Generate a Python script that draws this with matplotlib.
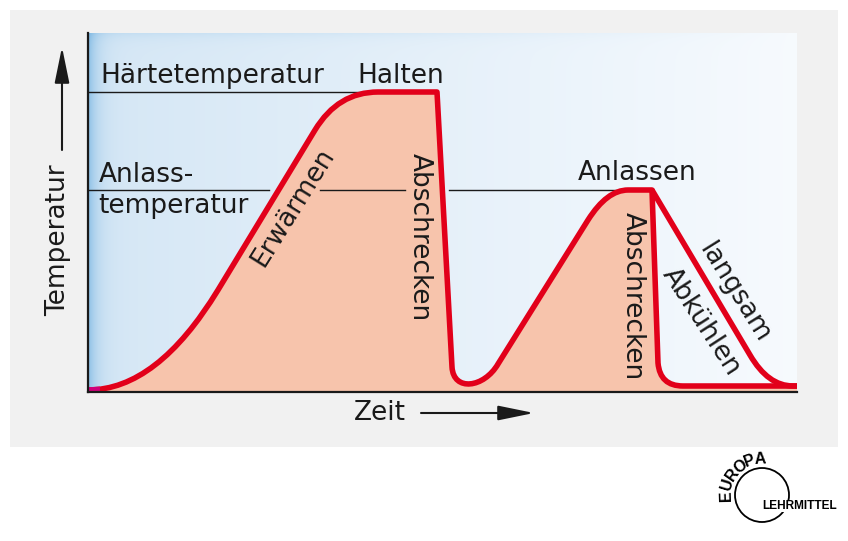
import numpy as np
import matplotlib
matplotlib.use('Agg')
import matplotlib.pyplot as plt
from matplotlib.path import Path
from matplotlib.patches import PathPatch, Rectangle, Circle, FancyArrowPatch

plt.rcParams['font.family'] = ['DejaVu Sans']

# ---------------- data (time, temperature in arbitrary units) ----------------
hardening_temp = 300
tempering_temp = 202
# main heat-treatment curve: path vertices and path codes
main_t = [0, 69, 130, 227, 250, 290, 349, 364, 365.5, 396, 410, 500, 519, 540, 564, 570, 572, 595, 709]
main_T = [2, 2, 102, 262, 300, 300, 300, 25, 0, 4, 28, 172, 202, 202, 202, 29, 6, 6, 6]
main_codes = ['M', 'C3', 'C3', 'L', 'C3', 'C3', 'L', 'L', 'C4', 'C4', 'C4', 'L', 'C3', 'C3', 'L', 'L', 'C3', 'C3', 'L']
# slow cooling branch after tempering
slow_t = [564, 662, 680, 705, 709]
slow_T = [202, 37, 6, 6, 6]
slow_codes = ['M', 'L', 'C3', 'C3', 'L']
# reference lines (start, end)
hard_line = [(0, 349)]
temper_line = [(0, 181), (232, 317), (361, 564)]

labels = {
    'hard': 'Härtetemperatur', 'hold': 'Halten', 'temper1': 'Anlass-', 'temper2': 'temperatur',
    'heat': 'Erwärmen', 'quench': 'Abschrecken', 'tempering': 'Anlassen',
    'slow1': 'langsam', 'slow2': 'Abkühlen', 'ylabel': 'Temperatur', 'xlabel': 'Zeit',
}

W, H = 848, 541
fig = plt.figure(figsize=(W / 100, H / 100), dpi=100)

def fx(px):
    return px / W

def fy(py):
    return 1 - py / H

# gray panel
fig.add_artist(Rectangle((fx(10), fy(447)), fx(838) - fx(10), fy(10) - fy(447),
                         transform=fig.transFigure, facecolor='#f1f1f1', edgecolor='none', zorder=0))

ax = fig.add_axes([fx(88), fy(392), fx(797) - fx(88), fy(33) - fy(392)])
ax.set_xlim(0, 709)
ax.set_ylim(0, 359)
ax.patch.set_alpha(0)
ax.set_xticks([])
ax.set_yticks([])
for s in ['top', 'right']:
    ax.spines[s].set_visible(False)
for s in ['left', 'bottom']:
    ax.spines[s].set_color('#1a1a1a')
    ax.spines[s].set_linewidth(1.6)
    ax.spines[s].set_zorder(6)

# background gradient
gw, gh = 709, 359
xx = np.arange(gw)[None, :] * np.ones((gh, 1))
yy = np.arange(gh)[:, None] * np.ones((1, gw))
u = xx / gw
c0 = np.array([0.835, 0.905, 0.962])
c1 = np.array([0.968, 0.982, 0.996])
img = c0[None, None, :] * (1 - u[..., None]) + c1[None, None, :] * u[..., None]
edge = np.array([0.45, 0.70, 0.88])
a = 0.75 * np.exp(-xx / 9.0) + 0.18 * np.exp(-yy / 6.0) * (1 - u)
a = np.clip(a, 0, 0.85)[..., None]
img = img * (1 - a) + edge[None, None, :] * a
ax.imshow(img, extent=(0, 709, 0, 359), origin='upper', aspect='auto', zorder=0, interpolation='bilinear')

code_map = {'M': Path.MOVETO, 'L': Path.LINETO, 'C3': Path.CURVE3, 'C4': Path.CURVE4}
main_verts = list(zip(main_t, main_T))
main_c = [code_map[c] for c in main_codes]
fill_path = Path(main_verts + [(709, 0), (0, 0), (0, 0)],
                 main_c + [Path.LINETO, Path.LINETO, Path.CLOSEPOLY])
ax.add_patch(PathPatch(fill_path, facecolor='#f7c4ac', edgecolor='none', zorder=1))

# reference lines
for a0, a1 in hard_line:
    ax.plot([a0, a1], [hardening_temp, hardening_temp], color='#1a1a1a', lw=1.0, zorder=2)
for a0, a1 in temper_line:
    ax.plot([a0, a1], [tempering_temp, tempering_temp], color='#1a1a1a', lw=1.0, zorder=2)

red = '#e2001a'
ax.add_patch(PathPatch(Path(main_verts, main_c), fill=False, edgecolor=red, lw=4.0,
                       joinstyle='round', capstyle='butt', zorder=4))
ax.add_patch(PathPatch(Path(list(zip(slow_t, slow_T)), [code_map[c] for c in slow_codes]),
                       fill=False, edgecolor=red, lw=4.0, joinstyle='round', capstyle='butt', zorder=4))
ax.plot([0, 12], [2, 2.6], color='#d0007a', lw=4.0, solid_capstyle='butt', zorder=5)

fs = 19
tc = '#1a1a1a'
ax.text(12, 309, labels['hard'], fontsize=fs, color=tc, va='baseline', ha='left', zorder=7)
ax.text(269, 309, labels['hold'], fontsize=fs, color=tc, va='baseline', ha='left', zorder=7)
ax.text(11, 210, labels['temper1'], fontsize=fs, color=tc, va='baseline', ha='left', zorder=7)
ax.text(10, 179, labels['temper2'], fontsize=fs, color=tc, va='baseline', ha='left', zorder=7)
ax.text(549, 212, labels['tempering'], fontsize=fs, color=tc, va='baseline', ha='center', zorder=7)
ax.text(205, 185, labels['heat'], fontsize=fs, color=tc, va='center', ha='center', rotation=58, zorder=7)
ax.text(332, 155, labels['quench'], fontsize=fs, color=tc, va='center', ha='center', rotation=-90, zorder=7)
ax.text(545, 96, labels['quench'], fontsize=fs, color=tc, va='center', ha='center', rotation=-90, zorder=7)
ax.text(613, 70, labels['slow2'], fontsize=fs, color=tc, va='center', ha='center', rotation=-57, zorder=7)
ax.text(646, 99, labels['slow1'], fontsize=fs, color=tc, va='center', ha='center', rotation=-58, zorder=7)

# axis labels with arrows
fig.text(fx(58), fy(240), labels['ylabel'], fontsize=fs, color=tc, rotation=90, ha='center', va='center')
fig.text(fx(380), fy(413), labels['xlabel'], fontsize=fs, color=tc, ha='center', va='center')
fig.add_artist(FancyArrowPatch((fx(62), fy(150)), (fx(62), fy(47)), transform=fig.transFigure,
                               arrowstyle='-|>,head_length=2.2,head_width=0.45', mutation_scale=10,
                               color='#1a1a1a', lw=1.5, shrinkA=0, shrinkB=0))
fig.add_artist(FancyArrowPatch((fx(421), fy(413)), (fx(534), fy(413)), transform=fig.transFigure,
                               arrowstyle='-|>,head_length=2.2,head_width=0.45', mutation_scale=10,
                               color='#1a1a1a', lw=1.5, shrinkA=0, shrinkB=0))

# logo
cx, cy, r = 762, 495, 27
circ = Circle((cx, H - cy), r, transform=None, facecolor='white', edgecolor='black', lw=1.3)
fig.add_artist(circ)
logo_letters = 'EUROPA'
angles = [182, 163, 145, 127, 110, 93]
for ch, ang in zip(logo_letters, angles):
    rad = np.deg2rad(ang)
    px = cx + 36 * np.cos(rad)
    py = cy - 36 * np.sin(rad)
    fig.text(fx(px), fy(py), ch, fontsize=11.5, fontweight='bold',
             family=['Liberation Sans'], rotation=ang - 90, ha='center', va='center', color='black')
fig.text(fx(762), fy(506), 'LEHRMITTEL', fontsize=8.6, fontweight='bold',
         family=['Liberation Sans'], ha='left', va='center', color='black',
         bbox=dict(facecolor='white', edgecolor='none', pad=0.3))

fig.savefig('out.png', dpi=100)
